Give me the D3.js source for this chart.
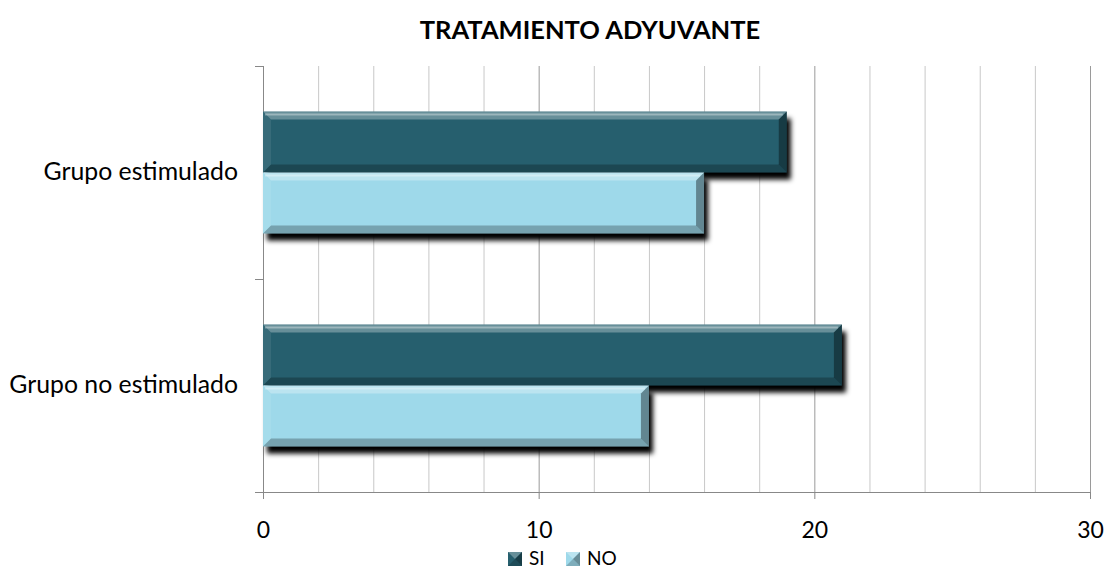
<!DOCTYPE html>
<html>
<head>
<meta charset="utf-8">
<script src="https://cdn.jsdelivr.net/npm/d3@7"></script>
<style>
  html, body { margin: 0; padding: 0; background: #fff; }
  svg { display: block; }
  text { font-family: Lato, "Open Sans", sans-serif; fill: #000; }
</style>
</head>
<body>
<svg id="chart" width="1107" height="569"></svg>
<script>
// Data
const categories = ["Grupo estimulado", "Grupo no estimulado"];
const seriesNames = ["SI", "NO"];
const siValues = [19, 21];
const noValues = [16, 14];
const xTicks = [0, 10, 20, 30];
const title = "TRATAMIENTO ADYUVANTE";

const colors = { SI: "#265F6E", NO: "#9ED9EA" };

const svg = d3.select("#chart");
const plot = { left: 263, right: 1090, top: 66, bottom: 492 };

const x = d3.scaleLinear().domain([0, 30]).range([plot.left, plot.right]);
const y0 = d3.scaleBand().domain(categories).range([plot.top, plot.bottom])
  .paddingInner(0.427).paddingOuter(0.2135);
const y1 = d3.scaleBand().domain(seriesNames).range([0, y0.bandwidth()]);

const rows = [];
categories.forEach((c, i) => {
  rows.push({ cat: c, series: "SI", value: siValues[i] });
  rows.push({ cat: c, series: "NO", value: noValues[i] });
});

// Drop shadow for the bars
const defs = svg.append("defs");
const sh = defs.append("filter").attr("id", "shadow")
  .attr("x", "-10%").attr("y", "-30%").attr("width", "130%").attr("height", "180%");
sh.append("feGaussianBlur").attr("in", "SourceAlpha").attr("stdDeviation", 2.5);
sh.append("feOffset").attr("dx", 4).attr("dy", 7);

// Title
svg.append("text").attr("x", 590).attr("y", 39)
  .attr("text-anchor", "middle").attr("font-size", 25.5).attr("font-weight", 700)
  .text(title);

// Vertical gridlines every 2 units
const grid = d3.range(2, 31, 2);
svg.append("g").selectAll("line").data(grid).join("line")
  .attr("x1", d => x(d) + 0.5).attr("x2", d => x(d) + 0.5)
  .attr("y1", plot.top).attr("y2", plot.bottom)
  .attr("stroke", d => d % 10 === 0 ? "#9a9a9a" : "#c8c8c8").attr("stroke-width", 1);

// X axis
const xAxis = d3.axisBottom(x).tickValues(xTicks).tickSize(7).tickPadding(23).tickSizeOuter(0);
const gx = svg.append("g").attr("transform", `translate(0,${plot.bottom})`).call(xAxis);
gx.select(".domain").attr("stroke", "#888").attr("d", `M${plot.left - 8},0.5H${plot.right}`);
gx.selectAll(".tick line").attr("stroke", "#888");
gx.selectAll(".tick text").attr("font-size", 23).attr("font-family", "Lato").attr("fill", "#000");

// Y axis
const yAxis = d3.axisLeft(y0).tickSize(0).tickPadding(25);
const gy = svg.append("g").attr("transform", `translate(${plot.left},0)`).call(yAxis);
gy.select(".domain").attr("stroke", "#888").attr("d", `M0.5,${plot.top}V${plot.bottom}`);
gy.selectAll(".tick text").attr("font-size", 24.8).attr("font-family", "Lato").attr("fill", "#000");
// category boundary ticks
const bounds = [plot.top, (plot.top + plot.bottom) / 2, plot.bottom];
svg.append("g").selectAll("line").data(bounds).join("line")
  .attr("x1", plot.left - 8).attr("x2", plot.left)
  .attr("y1", d => Math.round(d) + 0.5).attr("y2", d => Math.round(d) + 0.5)
  .attr("stroke", "#888");

// Bars with bevelled edges
const bev = 8;
const bars = svg.append("g").selectAll("g").data(rows).join("g")
  .attr("transform", d => `translate(0,${y0(d.cat) + y1(d.series)})`);

bars.append("rect")
  .attr("x", x(0)).attr("y", 0)
  .attr("width", d => x(d.value) - x(0)).attr("height", y1.bandwidth())
  .attr("fill", "#000").attr("filter", "url(#shadow)");

bars.append("rect")
  .attr("x", x(0)).attr("y", 0)
  .attr("width", d => x(d.value) - x(0)).attr("height", y1.bandwidth())
  .attr("fill", d => colors[d.series]);

function facet(d, side) {
  const x0 = x(0), x1 = x(d.value), h = y1.bandwidth();
  if (side === "top") return `M${x0},0H${x1}L${x1 - bev},${bev}H${x0 + bev}Z`;
  if (side === "bottom") return `M${x0},${h}H${x1}L${x1 - bev},${h - bev}H${x0 + bev}Z`;
  if (side === "left") return `M${x0},0L${x0 + bev},${bev}V${h - bev}L${x0},${h}Z`;
  return `M${x1},0L${x1 - bev},${bev}V${h - bev}L${x1},${h}Z`;
}
const shades = { top: "rgba(255,255,255,0.3)", bottom: "rgba(0,0,0,0.25)", left: "rgba(255,255,255,0.08)", right: "rgba(0,0,0,0.38)" };
["top", "bottom", "left", "right"].forEach(s => {
  bars.append("path").attr("d", d => facet(d, s)).attr("fill", shades[s]);
});
// thin bright line along the top edge of each bar
bars.append("rect").attr("x", x(0) + 2).attr("y", 2)
  .attr("width", d => Math.max(0, x(d.value) - x(0) - 6)).attr("height", 2)
  .attr("fill", "rgba(255,255,255,0.35)");

// Legend
const legend = svg.append("g").attr("transform", "translate(508,552)");
seriesNames.forEach((s, i) => {
  const g = legend.append("g").attr("transform", `translate(${i * 58},0)`);
  g.append("rect").attr("x", 0).attr("y", 0).attr("width", 14).attr("height", 14).attr("fill", colors[s]);
  g.append("path").attr("d", "M0,0H14L7,7Z").attr("fill", "rgba(255,255,255,0.3)");
  g.append("path").attr("d", "M14,0V14L7,7Z").attr("fill", "rgba(0,0,0,0.35)");
  g.append("path").attr("d", "M0,14H14L7,7Z").attr("fill", "rgba(0,0,0,0.2)");
  g.append("text").attr("x", 21).attr("y", 13).attr("font-size", 19).text(s);
});
</script>
</body>
</html>
